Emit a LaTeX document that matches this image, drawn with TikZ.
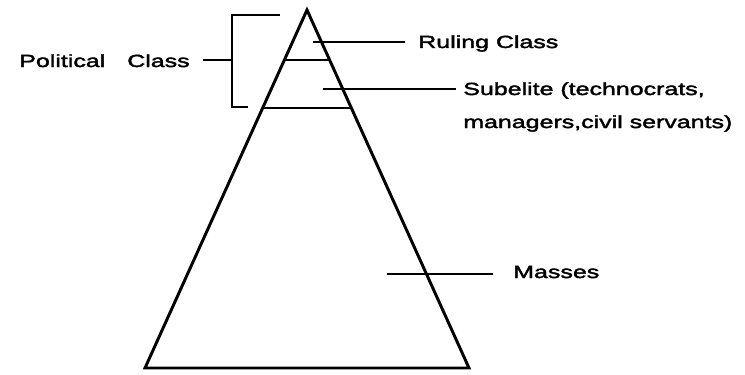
\documentclass[tikz,border=0pt]{standalone}
\usepackage{fontspec}
\setmainfont{Liberation Sans}[FakeStretch=1.42,FakeBold=2.2]
\usetikzlibrary{calc}

\begin{document}
\begin{tikzpicture}[x=0.025cm,y=-0.025cm,
  lbl/.style={font=\fontsize{12.5}{15}\selectfont, inner sep=0pt},
  edge/.style={line width=2.1pt, line join=miter},
  tick/.style={line width=1.3pt}]
\useasboundingbox (0,0) rectangle (745,375);
% pyramid
\coordinate (apex) at (307,10);
\coordinate (bl) at (145,368);
\coordinate (br) at (469,368);
\draw[edge] (apex) -- (bl) -- (br) -- cycle;
\draw[tick] ($(apex)!0.14!(bl)$) -- ($(apex)!0.14!(br)$);
\draw[tick] ($(apex)!0.274!(bl)$) -- ($(apex)!0.274!(br)$);
% labels on the right
\node[lbl, anchor=base west] (ruling) at (418,48) {Ruling Class};
\node[lbl, anchor=base west] (sub) at (463,95) {Subelite (technocrats,};
\node[lbl, anchor=base west] (sub2) at (463,128) {managers,civil servants)};
\node[lbl, anchor=base west] (masses) at (513,278) {Masses};
\coordinate (r1) at (313,42);
\coordinate (s1) at (323,89);
\coordinate (m1) at (387,274);
\draw[tick, shorten >=0.32cm] (r1) -- (ruling.west |- r1);
\draw[tick, shorten >=0.18cm] (s1) -- (sub.west |- s1);
\draw[tick, shorten >=0.5cm] (m1) -- (masses.west |- m1);
% bracket on the left
\node[lbl, anchor=base east] (polit) at (190,67) {Political\hspace{0.55cm}Class};
\coordinate (btop) at (280,15);
\coordinate (bbot) at (248,107);
\coordinate (bmid) at (232,60);
\draw[tick] (btop) -- (bmid |- btop) -- (bmid |- bbot) -- (bbot);
\draw[tick, shorten >=0.32cm] (bmid) -- (polit.east |- bmid);
\end{tikzpicture}
\end{document}
